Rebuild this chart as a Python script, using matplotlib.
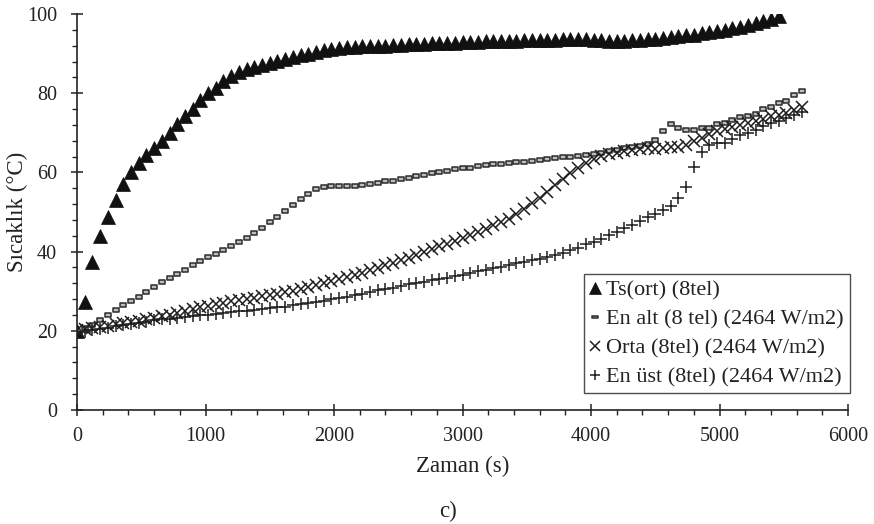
import matplotlib
matplotlib.use('Agg')
import matplotlib.pyplot as plt
from matplotlib.path import Path
from matplotlib.ticker import MultipleLocator
import numpy as np

plt.rcParams['font.family'] = ['Liberation Serif', 'DejaVu Serif']
plt.rcParams['font.size'] = 14.5

# readings every 60 s
dt = 60

ts_ort = [20.0, 27.2, 37.3, 43.9, 48.7, 53.0, 57.1, 60.1, 62.4, 64.5,
          66.1, 67.9, 70.0, 72.2, 74.3, 76.1, 78.3, 80.0, 81.4, 83.1,
          84.4, 85.3, 86.0, 86.6, 87.1, 87.6, 88.1, 88.6, 89.1, 89.6,
          90.0, 90.5, 90.9, 91.2, 91.4, 91.6, 91.7, 91.8, 91.9, 92.0,
          92.0, 92.1, 92.2, 92.3, 92.4, 92.5, 92.6, 92.7, 92.7, 92.8,
          92.9, 93.0, 93.0, 93.1, 93.2, 93.2, 93.3, 93.3, 93.4, 93.4,
          93.5, 93.5, 93.5, 93.6, 93.6, 93.6, 93.6, 93.5, 93.4, 93.3,
          93.3, 93.3, 93.4, 93.5, 93.7, 93.8, 94.0, 94.2, 94.4, 94.6,
          94.8, 95.1, 95.4, 95.7, 96.0, 96.4, 96.8, 97.3, 97.8, 98.3,
          98.8, 99.4]

en_alt = [20.0, 20.7, 21.5, 22.6, 23.9, 25.2, 26.4, 27.6, 28.6, 29.9,
          31.0, 32.2, 33.3, 34.4, 35.4, 36.5, 37.6, 38.7, 39.5, 40.4,
          41.4, 42.4, 43.4, 44.6, 46.0, 47.4, 48.8, 50.2, 51.7, 53.3,
          54.6, 55.8, 56.4, 56.6, 56.6, 56.6, 56.6, 56.7, 57.0, 57.4,
          57.7, 57.9, 58.3, 58.6, 59.0, 59.4, 59.8, 60.1, 60.4, 60.8,
          61.0, 61.2, 61.5, 61.8, 62.0, 62.2, 62.4, 62.6, 62.7, 62.9,
          63.1, 63.3, 63.6, 63.8, 64.0, 64.2, 64.4, 64.7, 65.0, 65.3,
          65.7, 66.1, 66.4, 66.6, 67.2, 68.3, 70.4, 72.2, 71.1, 70.6,
          70.8, 71.2, 71.1, 72.1, 72.5, 73.3, 74.1, 74.3, 74.8, 76.0,
          76.5, 77.4, 78.0, 79.6, 80.5]

orta = [20.2, 20.4, 20.7, 21.0, 21.3, 21.6, 21.9, 22.2, 22.5, 22.9,
        23.3, 23.7, 24.1, 24.5, 24.9, 25.4, 25.9, 26.3, 26.7, 27.1,
        27.5, 27.8, 28.1, 28.4, 28.7, 29.0, 29.4, 29.7, 30.1, 30.6,
        31.0, 31.5, 32.0, 32.5, 33.0, 33.6, 34.1, 34.7, 35.3, 35.9,
        36.5, 37.1, 37.8, 38.5, 39.2, 39.9, 40.6, 41.3, 42.0, 42.7,
        43.4, 44.2, 45.0, 45.8, 46.6, 47.4, 48.3, 49.5, 50.8, 52.2,
        53.6, 55.1, 56.7, 58.3, 59.8, 61.1, 62.4, 63.3, 64.1, 64.6,
        65.0, 65.4, 65.7, 65.9, 66.1, 66.0, 66.2, 66.3, 66.5, 67.0,
        67.8, 68.8, 69.7, 70.5, 71.0, 71.4, 71.9, 72.5, 73.1, 73.6,
        74.2, 74.6, 75.0, 75.8, 76.6]

en_ust = [19.5, 19.8, 20.1, 20.4, 20.8, 21.1, 21.4, 21.7, 22.0, 22.3,
          22.6, 22.9, 23.1, 23.3, 23.5, 23.7, 23.9, 24.1, 24.3, 24.5,
          24.7, 24.9, 25.1, 25.3, 25.5, 25.7, 25.9, 26.1, 26.4, 26.7,
          27.0, 27.3, 27.6, 27.9, 28.2, 28.6, 29.0, 29.4, 29.8, 30.2,
          30.6, 30.9, 31.3, 31.7, 32.1, 32.4, 32.7, 33.0, 33.4, 33.8,
          34.2, 34.6, 35.0, 35.4, 35.8, 36.2, 36.6, 37.0, 37.4, 37.8,
          38.2, 38.7, 39.2, 39.7, 40.3, 41.0, 41.8, 42.5, 43.1, 44.1,
          45.0, 45.9, 46.7, 47.6, 48.8, 49.5, 50.5, 51.5, 53.5, 56.4,
          61.3, 65.2, 66.9, 67.3, 67.5, 68.4, 69.4, 69.9, 70.7, 71.6,
          72.4, 73.0, 73.7, 74.5, 75.3]

labels = ['Ts(ort) (8tel)',
          'En alt (8 tel) (2464 W/m2)',
          'Orta (8tel) (2464 W/m2)',
          'En üst (8tel) (2464 W/m2)']


def zaman(vals):
    return dt * np.arange(len(vals))


# flat box marker for the bottom thermocouple
box = Path([(-1, -0.45), (1, -0.45), (1, 0.45), (-1, 0.45), (-1, -0.45)],
           [Path.MOVETO, Path.LINETO, Path.LINETO, Path.LINETO, Path.CLOSEPOLY])

fig = plt.figure(figsize=(8.74, 5.24), dpi=100)
ax = fig.add_axes([0.0881, 0.2176, 0.8822, 0.7557])

ax.plot(zaman(ts_ort), ts_ort, ls='none', marker='^', ms=9.5,
        mfc='#111111', mec='#111111', mew=0.5, label=labels[0])
ax.plot(zaman(en_alt), en_alt, ls='none', marker=box, ms=5,
        mfc='#bdbdbd', mec='#2b2b2b', mew=1.1, label=labels[1])
ax.plot(zaman(orta), orta, ls='none', marker='x', ms=8,
        mec='#1e1e1e', mew=1.1, label=labels[2])
ax.plot(zaman(en_ust), en_ust, ls='none', marker='+', ms=8.5,
        mec='#1e1e1e', mew=1.1, label=labels[3])

ax.set_xlim(0, 6000)
ax.set_ylim(0, 100)
ax.xaxis.set_major_locator(MultipleLocator(1000))
ax.xaxis.set_minor_locator(MultipleLocator(200))
ax.yaxis.set_major_locator(MultipleLocator(20))
ax.yaxis.set_minor_locator(MultipleLocator(4))
ax.tick_params(which='major', direction='inout', length=9, width=1.1,
               color='#222222', labelcolor='#222222', labelsize=14.5)
ax.tick_params(which='minor', direction='out', length=3.5, width=1.0,
               color='#222222')
ax.tick_params(axis='x', pad=8)
ax.tick_params(axis='y', pad=10)

for side in ['top', 'right']:
    ax.spines[side].set_visible(False)
for side in ['left', 'bottom']:
    ax.spines[side].set_linewidth(1.2)
    ax.spines[side].set_color('#222222')

ax.set_xlabel('Zaman (s)', color='#222222', fontsize=16.5, labelpad=7)
ax.set_ylabel('Sıcaklık (°C)', color='#222222', fontsize=16.5, labelpad=-1)

leg = ax.legend(loc='lower right', bbox_to_anchor=(1.002, 0.043),
                borderaxespad=0, frameon=True, fancybox=False, fontsize=16,
                handlelength=0.5, handletextpad=0.25, labelspacing=0.38,
                borderpad=0.25, markerscale=0.85)
leg.get_frame().set_edgecolor('#222222')
leg.get_frame().set_linewidth(1.0)
for txt in leg.get_texts():
    txt.set_color('#222222')

fig.text(448 / 874, 1 - 511 / 524, 'c)', ha='center', va='center',
         fontsize=16.5, color='#222222')

fig.savefig('out.png', dpi=100)
